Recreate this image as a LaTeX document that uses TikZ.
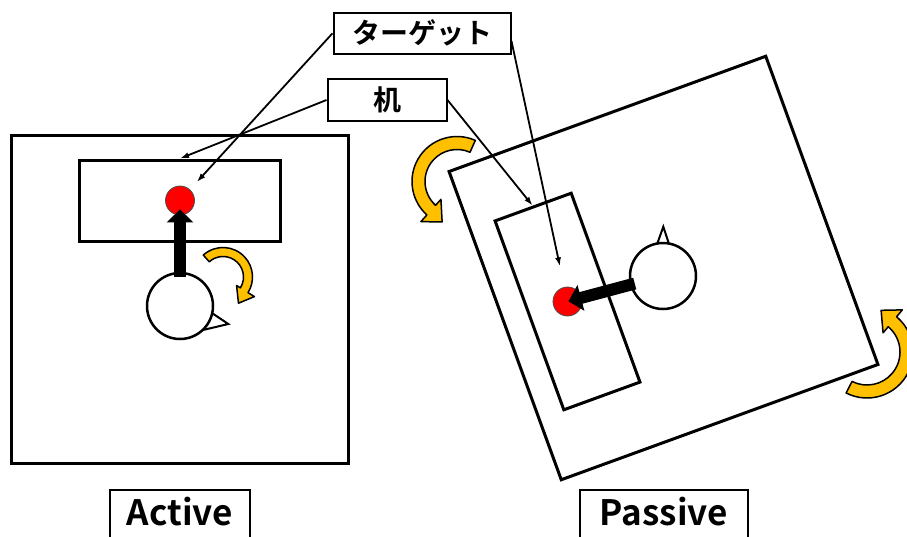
\documentclass[tikz,border=0pt]{standalone}
\usepackage{fontspec}
\setmainfont{Noto Sans CJK JP}[BoldFont={Noto Sans CJK JP Bold}]
\usetikzlibrary{arrows.meta,calc}
\definecolor{turnyellow}{HTML}{FFC000}

\begin{document}
\begin{tikzpicture}[x=1pt,y=-1pt,every path/.style={>={Latex[length=9pt,width=6pt]}},
  room/.style={draw,rectangle,line width=3pt,minimum width=337pt,minimum height=328pt},
  desk/.style={draw,rectangle,line width=3pt,minimum width=201pt,minimum height=81pt},
  goal/.style={circle,fill=red,draw=black!70,line width=0.8pt,minimum size=29pt,inner sep=0pt},
  person/.style={circle,draw,fill=white,line width=2.5pt,minimum size=66pt,inner sep=0pt},
  nose/.style={draw,fill=white,line width=2pt},
  push/.style={line width=12pt,-{Triangle[width=26pt,length=13pt]}},
  turn/.style={draw,fill=turnyellow,line width=1.5pt,line join=round},
  tag/.style={draw,rectangle,line width=2pt,inner sep=0pt,font=\fontsize{28}{28}\selectfont\bfseries},
  title/.style={draw,rectangle,line width=2pt,inner sep=0pt,anchor=north,text height=35pt,text depth=20pt,font=\fontsize{35}{35}\selectfont\bfseries},
  lead/.style={->,line width=1.8pt}]
\useasboundingbox (0,0) rectangle (907,536);
\clip (0,0) rectangle (907,536);

% Active: the room stays put, the person turns
\node[room]   (roomA) at (180,299.5) {};
\node[desk]   (deskA) at (180,200.5) {};
\node[goal]   (goalA) at (deskA.center) {};
\draw[nose] (206,309) -- (228.3,324) -- (203,330) -- cycle;
\node[person] (meA)   at (180,306) {};
\draw[push, shorten <=-5pt, shorten >=-6pt] (meA) -- (goalA);
\begin{scope}[shift={(223,277)}]
\filldraw[turn] (-132:29.5) arc[start angle=-132, end angle=32, radius=29.5]
  -- (32:37) -- ($(32:27)+(122:14)$) -- (32:16) -- (32:20.5)
  arc[start angle=32, end angle=-132, radius=20.5] -- cycle;
\end{scope}

% Passive: the room turns around the person
\node[room, rotate=20] (roomB) at (663.5,268) {};
\node[desk, rotate=20, minimum width=81pt, minimum height=201pt] (deskB) at (567.5,301.5) {};
\node[goal]   (goalB) at (deskB.center) {};
\draw[nose] (655,250) -- (663.3,226.7) -- (671,250) -- cycle;
\node[person] (meB)   at (663,276) {};
\draw[push, shorten <=-5pt, shorten >=-14pt] (meB) -- (goalB);
\begin{scope}[shift={(457,181.5)}]
\filldraw[turn] (-66:45) arc[start angle=-66, end angle=-228, radius=45]
  -- (-228:54) -- ($(-228:40)+(-318:16)$) -- (-228:24) -- (-228:32)
  arc[start angle=-228, end angle=-66, radius=32] -- cycle;
\end{scope}
\begin{scope}[shift={(867,352)}]
\filldraw[turn] (117:46) arc[start angle=117, end angle=-50, radius=46]
  -- (-50:55) -- ($(-50:41)+(-140:16)$) -- (-50:25) -- (-50:33)
  arc[start angle=-50, end angle=117, radius=33] -- cycle;
\end{scope}

% labels
\node[tag, minimum width=177pt, minimum height=41pt]   (tgt) at (422,33.3) {ターゲット};
\node[tag, minimum width=119pt, minimum height=41.5pt] (dsk) at (387,100)  {机};
\node[title, minimum width=140pt] (act) at (180,489) {Active};
\node[title, minimum width=168pt] (pas) at (664,489) {Passive};

\draw[lead, shorten >=10pt] (tgt.west) -- (goalA);
\draw[lead]                 (dsk.west) -- (deskA.north);
\draw[lead, shorten >=21pt] (tgt.-5)   -- (goalB);
\draw[lead]                 (dsk.east) -- (deskB.north);
\end{tikzpicture}
\end{document}
